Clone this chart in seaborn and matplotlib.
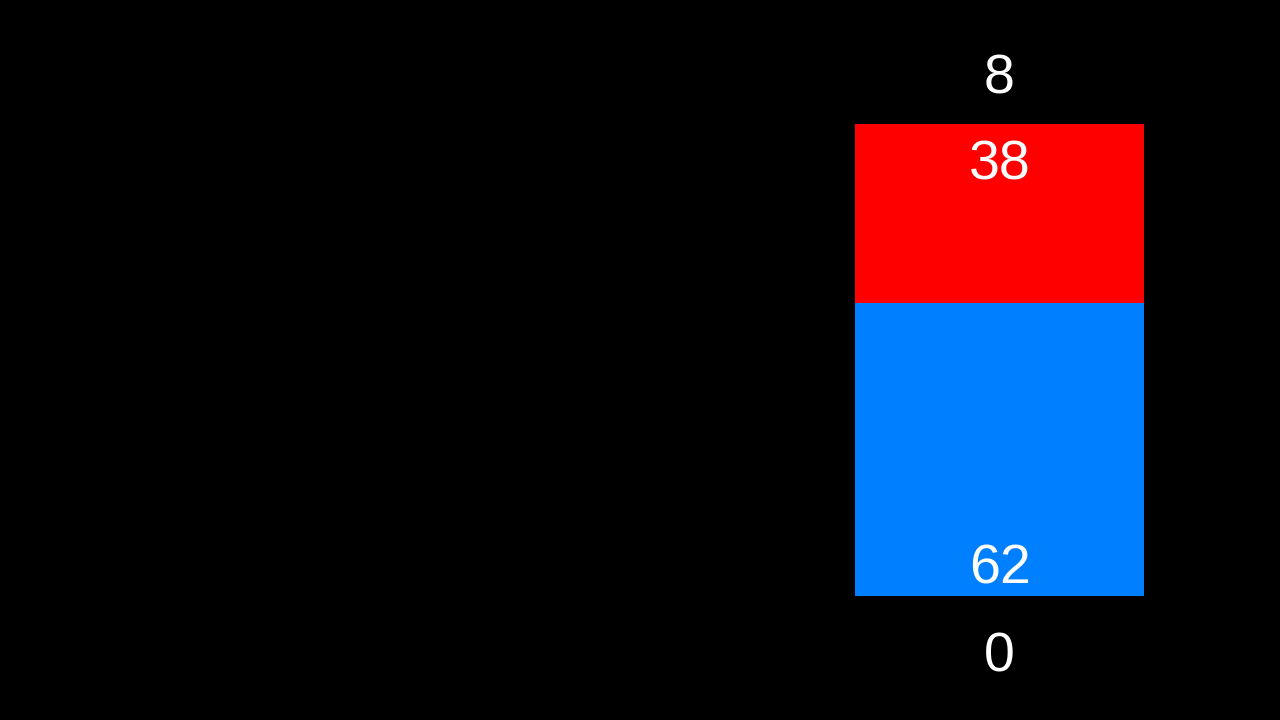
import numpy as np
import pandas as pd
import matplotlib
matplotlib.use("Agg")
import matplotlib.pyplot as plt
import seaborn as sns

# data
segments = ["bottom", "top"]
shares = [62, 38]
seg_colors = ["#007FFF", "#FF0000"]
top_label = "8"
bottom_label = "0"

sns.set_theme(style="white")
plt.rcParams['font.family'] = ['Liberation Sans', 'DejaVu Sans']

fig = plt.figure(figsize=(12.8, 7.2), dpi=100, facecolor="black")
# the single stacked bar sits on the right
ax = fig.add_axes([855 / 1280, 124 / 720, 289 / 1280, 472 / 720])
ax.set_facecolor("black")

df = pd.DataFrame({"bar": ["x"], "total": [sum(shares)], "bottom": [shares[0]]})
# full height first (top colour), then the bottom part over it
sns.barplot(data=df, x="bar", y="total", color=seg_colors[1], width=1.0,
            saturation=1, ax=ax, linewidth=0)
sns.barplot(data=df, x="bar", y="bottom", color=seg_colors[0], width=1.0,
            saturation=1, ax=ax, linewidth=0)

ax.set_xlim(-0.5, 0.5)
ax.set_ylim(0, sum(shares))
ax.axis("off")

scale = sum(shares) / 472.0  # data units per pixel
ax.text(0, shares[0] + shares[1] - 41 * scale, str(shares[1]), color="white",
        fontsize=40, ha="center", va="center", clip_on=False)
ax.text(0, 26 * scale, str(shares[0]), color="white",
        fontsize=40, ha="center", va="center", clip_on=False)
ax.text(0, sum(shares) + 44 * scale, top_label, color="white",
        fontsize=40, ha="center", va="center", clip_on=False)
ax.text(0, -61 * scale, bottom_label, color="white",
        fontsize=40, ha="center", va="center", clip_on=False)

fig.savefig("out.png", dpi=100, facecolor="black")
